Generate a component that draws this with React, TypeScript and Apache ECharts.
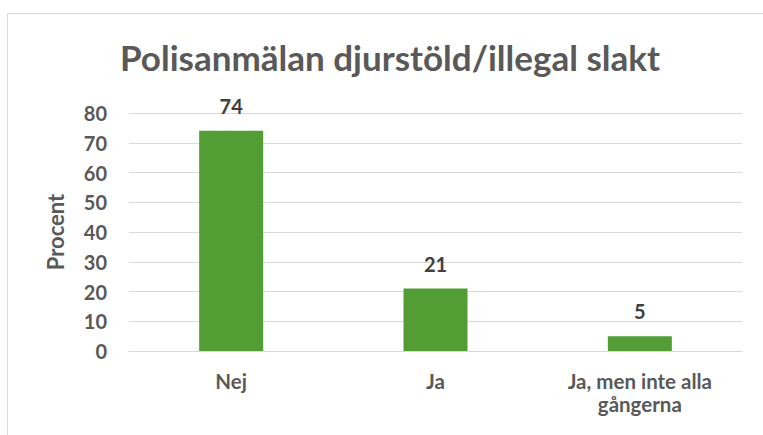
import React, { useEffect, useRef } from "react";
import * as echarts from "echarts";

const titleText = "Polisanmälan djurstöld/illegal slakt";
const categories = ["Nej", "Ja", "Ja, men inte alla\ngångerna"];
const values = [74, 21, 5];
const yAxisName = "Procent";

const FONT = "Lato, 'Noto Sans', sans-serif";

export default function App() {
  const ref = useRef<HTMLDivElement>(null);
  useEffect(() => {
    if (!ref.current) return;
    const chart = echarts.init(ref.current, undefined, { renderer: "svg" });
    chart.setOption({
      animation: false,
      backgroundColor: "#ffffff",
      textStyle: { fontFamily: FONT },
      graphic: [
        {
          type: "rect",
          shape: { x: 7.5, y: 13.5, width: 800, height: 500 },
          style: { fill: "none", stroke: "#d9d9d9", lineWidth: 1 },
          silent: true,
        },
        {
          type: "text",
          x: 390,
          y: 57,
          style: {
            text: titleText,
            font: `bold 35px ${FONT}`,
            fill: "#595959",
            align: "center",
            verticalAlign: "middle",
          },
        },
      ],
      grid: { left: 129, right: 21, top: 113, bottom: 84, containLabel: false },
      xAxis: {
        type: "category",
        data: categories,
        axisLine: { show: true, lineStyle: { color: "#d9d9d9", width: 1 } },
        axisTick: { show: false },
        axisLabel: {
          color: "#595959",
          fontSize: 20.5,
          fontWeight: "bold",
          fontFamily: FONT,
          margin: 18,
          lineHeight: 23,
          interval: 0,
        },
      },
      yAxis: {
        type: "value",
        min: 0,
        max: 80,
        interval: 10,
        name: yAxisName,
        nameLocation: "middle",
        nameRotate: 90,
        nameGap: 63,
        nameTextStyle: {
          color: "#595959",
          fontSize: 22,
          fontWeight: "bold",
          fontFamily: FONT,
        },
        axisLine: { show: false },
        axisTick: { show: false },
        splitLine: { lineStyle: { color: "#d9d9d9", width: 1 } },
        axisLabel: {
          color: "#595959",
          fontSize: 20,
          fontWeight: "bold",
          fontFamily: FONT,
          margin: 22,
        },
      },
      series: [
        {
          type: "bar",
          data: values,
          barWidth: 64,
          itemStyle: { color: "#529e34" },
          label: {
            show: true,
            position: "top",
            distance: 15,
            color: "#404040",
            fontSize: 20,
            fontWeight: "bold",
            fontFamily: FONT,
          },
        },
      ],
    });
    return () => chart.dispose();
  }, []);
  return (
    <div
      ref={ref}
      style={{ position: "absolute", left: 0, top: 0, width: 763, height: 435 }}
    />
  );
}
